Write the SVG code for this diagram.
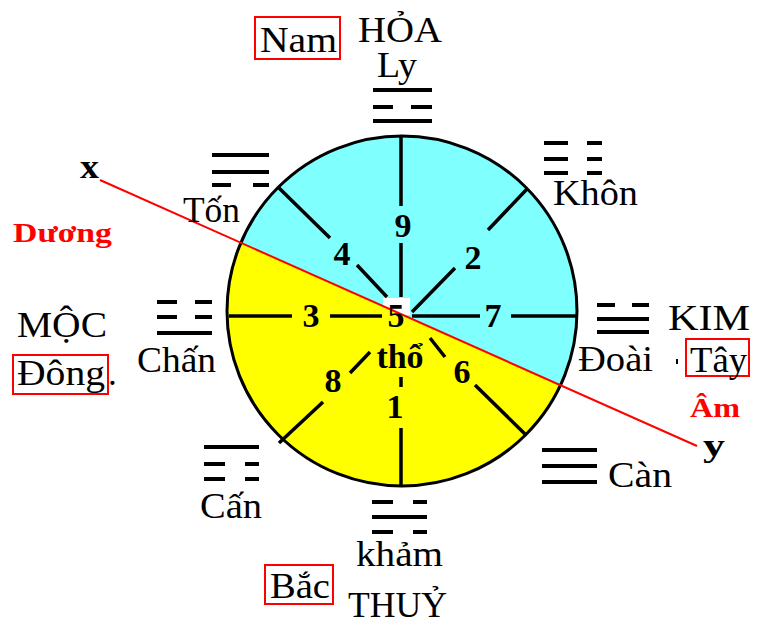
<svg xmlns="http://www.w3.org/2000/svg" width="757" height="630" viewBox="0 0 757 630">
<style>
.t{font-family:"Liberation Serif","Times New Roman",serif;font-size:35px;fill:#000}
.n{font-family:"Liberation Serif","Times New Roman",serif;font-size:34px;font-weight:bold;fill:#000;text-anchor:middle}
.r{font-family:"Liberation Serif","Times New Roman",serif;font-size:27px;font-weight:bold;fill:#f00}
.xy{font-family:"Liberation Serif","Times New Roman",serif;font-weight:bold;fill:#000}
.box{fill:none;stroke:#f00;stroke-width:2}
.tg line{stroke:#000;stroke-width:4}
.sp line{stroke:#000;stroke-width:3.5}
</style>
<rect width="757" height="630" fill="#fff"/>
<g id="wheel">
<path d="M240.86,242.76 A175,175 0 1 1 560.5,385.18 Z" fill="#80ffff"/>
<rect x="383" y="298" width="27" height="17" fill="#fff"/>
<path d="M560.5,385.18 A175,175 0 0 1 240.86,242.76 Z" fill="#ffff00"/>
<circle cx="402" cy="311" r="175" fill="none" stroke="#000" stroke-width="3"/>
</g>
<g id="connectors">
<g class="sp">
<line x1="401" y1="136" x2="401" y2="206"/>
<line x1="401" y1="243" x2="401" y2="297"/>
<line x1="401" y1="377" x2="401" y2="387"/>
<line x1="401" y1="428" x2="401" y2="486"/>
<line x1="229" y1="316" x2="292" y2="316"/>
<line x1="330" y1="316" x2="382" y2="316"/>
<line x1="412" y1="316" x2="480" y2="316"/>
<line x1="511" y1="316" x2="578" y2="316"/>
<line x1="279" y1="188" x2="330" y2="238"/>
<line x1="357" y1="265" x2="387" y2="297"/>
<line x1="527" y1="189" x2="488" y2="230"/>
<line x1="455" y1="268" x2="412" y2="312"/>
<line x1="279" y1="443" x2="323" y2="402"/>
<line x1="350" y1="373" x2="370" y2="352"/>
<line x1="430" y1="338" x2="445" y2="357"/>
<line x1="475" y1="385" x2="526" y2="435"/>
</g>
<line id="axis-xy" x1="100" y1="180" x2="697" y2="446" stroke="#f00" stroke-width="2"/>
</g>
<g id="numbers">
<text class="n" x="403" y="237">9</text>
<text class="n" x="342" y="265">4</text>
<text class="n" x="473" y="269">2</text>
<text class="n" x="311" y="327">3</text>
<text class="n" x="493" y="327">7</text>
<text class="n" x="396" y="327">5</text>
<text class="n" x="400" y="368">thổ</text>
<text class="n" x="333" y="392">8</text>
<text class="n" x="462" y="383">6</text>
<text class="n" x="395" y="418">1</text>
</g>
<g id="ly" class="tg">
<line x1="373" y1="90" x2="432" y2="90"/>
<line x1="373" y1="107" x2="393" y2="107"/><line x1="411" y1="107" x2="432" y2="107"/>
<line x1="373" y1="121" x2="432" y2="121"/>
<text class="t" x="377" y="77" font-size="32" textLength="40" lengthAdjust="spacingAndGlyphs">Ly</text>
</g>
<g id="khon" class="tg">
<line x1="544" y1="143" x2="568" y2="143"/><line x1="587" y1="143" x2="602" y2="143"/>
<line x1="544" y1="159" x2="568" y2="159"/><line x1="587" y1="159" x2="602" y2="159"/>
<line x1="544" y1="173" x2="568" y2="173"/><line x1="587" y1="173" x2="602" y2="173"/>
<text class="t" x="553" y="205" textLength="85" lengthAdjust="spacingAndGlyphs">Khôn</text>
</g>
<g id="ton" class="tg">
<line x1="212" y1="155" x2="269" y2="155"/>
<line x1="212" y1="172" x2="269" y2="172"/>
<line x1="212" y1="185" x2="231" y2="185"/><line x1="253" y1="185" x2="269" y2="185"/>
<text class="t" x="183" y="222" textLength="57" lengthAdjust="spacingAndGlyphs">Tốn</text>
</g>
<g id="chan" class="tg">
<line x1="157" y1="302" x2="177" y2="302"/><line x1="195" y1="302" x2="212" y2="302"/>
<line x1="157" y1="317" x2="177" y2="317"/><line x1="195" y1="317" x2="212" y2="317"/>
<line x1="157" y1="333" x2="212" y2="333"/>
<text class="t" x="137" y="372" textLength="79" lengthAdjust="spacingAndGlyphs">Chấn</text>
</g>
<g id="doai" class="tg">
<line x1="597" y1="305" x2="615" y2="305"/><line x1="632" y1="305" x2="649" y2="305"/>
<line x1="597" y1="319" x2="649" y2="319"/>
<line x1="597" y1="332" x2="649" y2="332"/>
<text class="t" x="578" y="371" textLength="75" lengthAdjust="spacingAndGlyphs">Đoài</text>
</g>
<g id="can-heaven" class="tg">
<line x1="542" y1="450" x2="597" y2="450"/>
<line x1="542" y1="466" x2="597" y2="466"/>
<line x1="542" y1="482" x2="597" y2="482"/>
<text class="t" x="608" y="487" textLength="64" lengthAdjust="spacingAndGlyphs">Càn</text>
</g>
<g id="can-mountain" class="tg">
<line x1="204" y1="447" x2="259" y2="447"/>
<line x1="204" y1="464" x2="225" y2="464"/><line x1="245" y1="464" x2="259" y2="464"/>
<line x1="204" y1="479" x2="225" y2="479"/><line x1="245" y1="479" x2="259" y2="479"/>
<text class="t" x="200" y="518" textLength="62" lengthAdjust="spacingAndGlyphs">Cấn</text>
</g>
<g id="kham" class="tg">
<line x1="372" y1="502" x2="393" y2="502"/><line x1="413" y1="502" x2="427" y2="502"/>
<line x1="372" y1="517" x2="427" y2="517"/>
<line x1="372" y1="532" x2="393" y2="532"/><line x1="413" y1="532" x2="427" y2="532"/>
<text class="t" x="356" y="566" textLength="87" lengthAdjust="spacingAndGlyphs">khảm</text>
</g>
<g id="south">
<rect class="box" x="255" y="17" width="85" height="42"/>
<text class="t" x="260" y="52" textLength="77" lengthAdjust="spacingAndGlyphs">Nam</text>
<text class="t" x="358" y="42" font-size="32" textLength="84" lengthAdjust="spacingAndGlyphs">HỎA</text>
</g>
<g id="east">
<text class="t" x="17" y="337" textLength="90" lengthAdjust="spacingAndGlyphs">MỘC</text>
<rect class="box" x="13" y="355" width="95" height="39"/>
<text class="t" x="17" y="385" textLength="88" lengthAdjust="spacingAndGlyphs">Đông</text>
<text class="t" x="108" y="385">.</text>
</g>
<g id="west">
<text class="t" x="668" y="330" textLength="82" lengthAdjust="spacingAndGlyphs">KIM</text>
<rect x="676" y="359" width="2" height="5" fill="#000"/>
<rect class="box" x="686" y="339" width="63" height="37"/>
<text class="t" x="690" y="372" textLength="57" lengthAdjust="spacingAndGlyphs">Tây</text>
</g>
<g id="north">
<rect class="box" x="265" y="565" width="68" height="39"/>
<text class="t" x="270" y="598" textLength="60" lengthAdjust="spacingAndGlyphs">Bắc</text>
<text class="t" x="348" y="617" textLength="99" lengthAdjust="spacingAndGlyphs">THUỶ</text>
</g>
<g id="duong">
<text class="r" x="13" y="242" textLength="99" lengthAdjust="spacingAndGlyphs">Dương</text>
</g>
<g id="am">
<text class="r" x="690" y="417" textLength="50" lengthAdjust="spacingAndGlyphs">Âm</text>
</g>
<g id="x-end">
<text class="xy" x="80" y="178" font-size="34" textLength="19" lengthAdjust="spacingAndGlyphs">x</text>
</g>
<g id="y-end">
<text class="xy" x="703" y="456" font-size="32" textLength="22" lengthAdjust="spacingAndGlyphs">y</text>
</g>
</svg>
